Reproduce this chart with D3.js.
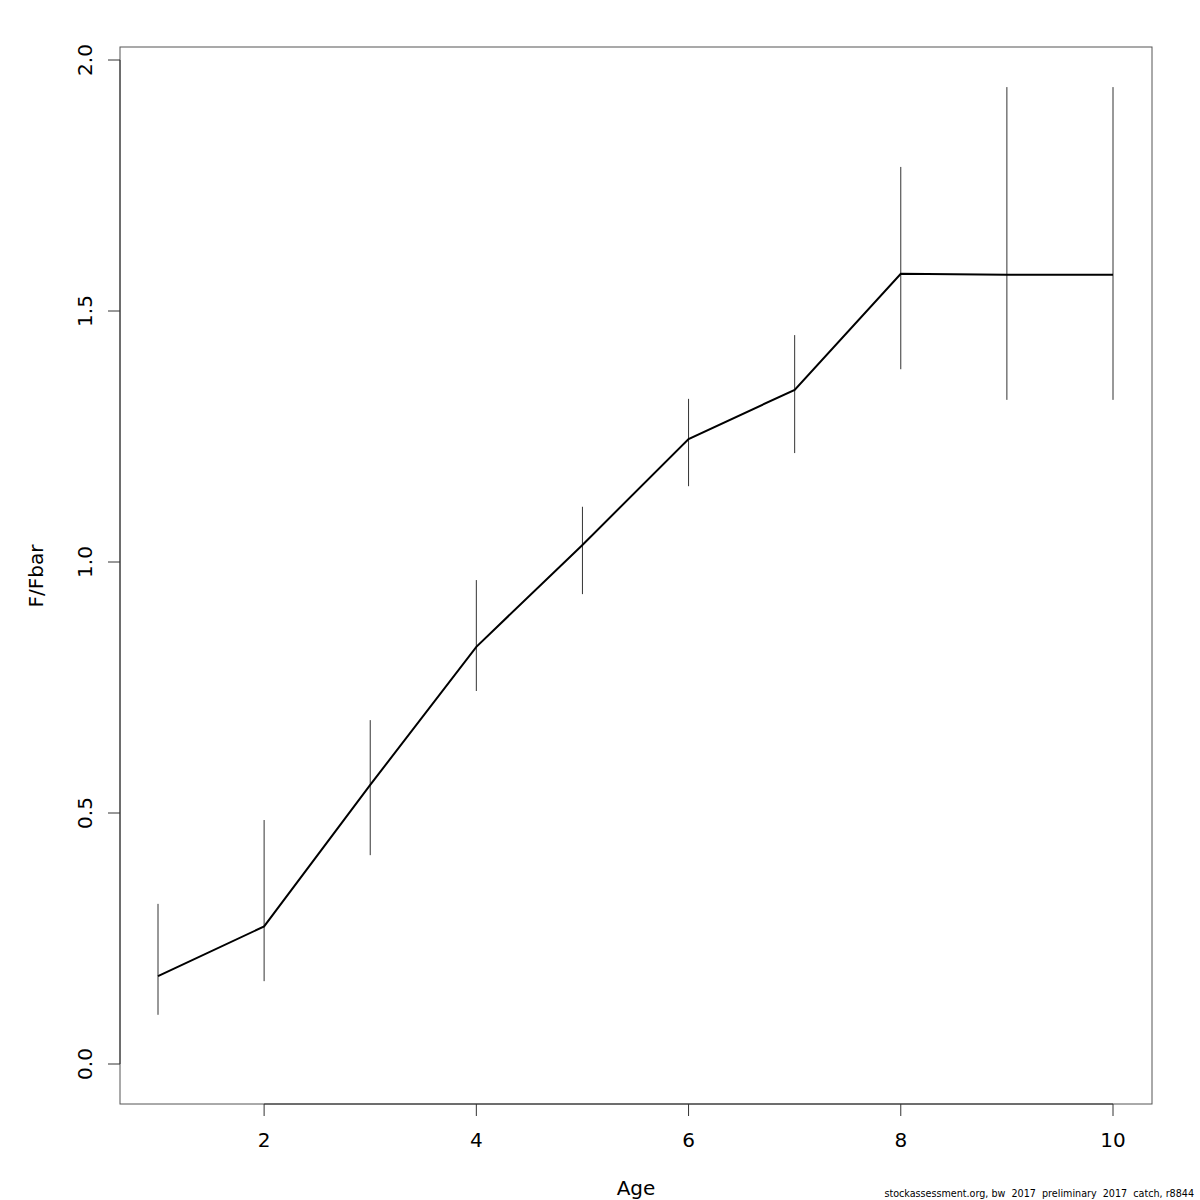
<!DOCTYPE html>
<html><head><meta charset="utf-8">
<script src="https://cdn.jsdelivr.net/npm/d3@7"></script>
<style>body{margin:0;background:#fff}svg{display:block}text{font-family:"DejaVu Sans",sans-serif;fill:#000}</style>
</head><body>
<script>
const ages = [1,2,3,4,5,6,7,8,9,10];
const fOverFbar = [0.175,0.274,0.556,0.831,1.034,1.245,1.343,1.574,1.572,1.572];
const upper = [0.319,0.486,0.685,0.964,1.110,1.325,1.452,1.787,1.946,1.946];
const lower = [0.098,0.165,0.416,0.743,0.936,1.151,1.217,1.384,1.323,1.323];
const xTicks = [2,4,6,8,10];
const yTicks = [0,0.5,1,1.5,2];
const yTickLabels = ["0.0","0.5","1.0","1.5","2.0"];
const xLabel = "Age", yLabel = "F/Fbar";
const footnote = "stockassessment.org, bw  2017  preliminary  2017  catch, r8844";

const W=1200,H=1200, L=120,R=1152,T=47,B=1104;
const svg = d3.select("body").append("svg").attr("width",W).attr("height",H);
const x = d3.scaleLinear().domain([1,10]).range([158,1113]);
const y = d3.scaleLinear().domain([0,2]).range([1064,60]);

// box
svg.append("rect").attr("x",L).attr("y",T).attr("width",R-L).attr("height",B-T)
  .attr("fill","none").attr("stroke","#555").attr("stroke-width",1);

// x axis
const xa = svg.append("g");
xa.append("line").attr("x1",x(2)).attr("x2",x(10)).attr("y1",B).attr("y2",B).attr("stroke","#333");
xTicks.forEach(t=>{
  xa.append("line").attr("x1",x(t)).attr("x2",x(t)).attr("y1",B).attr("y2",B+12).attr("stroke","#333");
  xa.append("text").attr("x",x(t)).attr("y",1147).attr("text-anchor","middle").attr("font-size",20).text(t);
});
// y axis
const ya = svg.append("g");
ya.append("line").attr("x1",L).attr("x2",L).attr("y1",y(0)).attr("y2",y(2)).attr("stroke","#333");
yTicks.forEach((t,i)=>{
  ya.append("line").attr("x1",L-12).attr("x2",L).attr("y1",y(t)).attr("y2",y(t)).attr("stroke","#333");
  ya.append("text").attr("transform",`translate(92,${y(t)}) rotate(-90)`).attr("text-anchor","middle")
    .attr("font-size",20).text(yTickLabels[i]);
});
svg.append("text").attr("x",636).attr("y",1195).attr("text-anchor","middle").attr("font-size",20).text(xLabel);
svg.append("text").attr("transform","translate(43,576) rotate(-90)").attr("text-anchor","middle").attr("font-size",20).text(yLabel);
svg.append("text").attr("x",1194).attr("y",1197).attr("text-anchor","end").attr("font-size",9.6)
  .attr("xml:space","preserve").style("white-space","pre").text(footnote);

// error bars
svg.append("g").selectAll("line").data(ages).join("line")
  .attr("x1",d=>x(d)).attr("x2",d=>x(d))
  .attr("y1",(d,i)=>y(upper[i])).attr("y2",(d,i)=>y(lower[i]))
  .attr("stroke","#333").attr("stroke-width",1);
// line
svg.append("path").datum(ages.map((a,i)=>[a,fOverFbar[i]]))
  .attr("d",d3.line().x(d=>x(d[0])).y(d=>y(d[1])))
  .attr("fill","none").attr("stroke","#000").attr("stroke-width",2);
</script>
</body></html>
